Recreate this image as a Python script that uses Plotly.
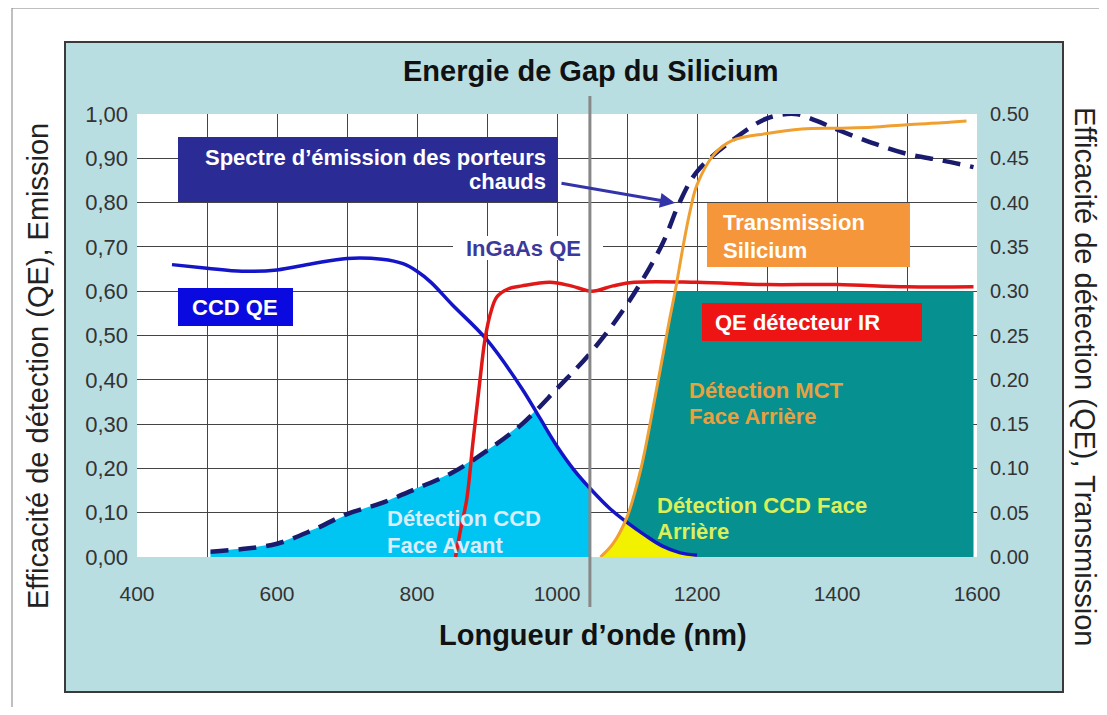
import numpy as np
import plotly.graph_objects as go

# ---------------- data ----------------
ccd_nm = [450, 500, 550, 600, 650, 700, 750, 780, 800, 820, 850, 900, 950, 975,
          1000, 1025, 1050, 1075, 1100, 1125, 1150, 1175, 1200]
ccd_qe = [0.66, 0.652, 0.645, 0.648, 0.662, 0.674, 0.672, 0.662, 0.645, 0.62,
          0.57, 0.49, 0.38, 0.315, 0.25, 0.195, 0.15, 0.11, 0.078, 0.05, 0.025,
          0.01, 0.004]

ir_nm = [855, 862, 871, 880, 890, 897, 905, 914, 930, 950, 990, 1020, 1050,
         1080, 1110, 1200, 1300, 1400, 1500, 1595]
ir_qe = [0.0, 0.06, 0.13, 0.26, 0.40, 0.49, 0.55, 0.587, 0.605, 0.612, 0.62,
         0.612, 0.60, 0.612, 0.62, 0.62, 0.615, 0.615, 0.61, 0.61]

em_nm = [505, 550, 600, 650, 700, 750, 800, 850, 900, 950, 1000, 1050, 1100,
         1150, 1175, 1200, 1250, 1300, 1340, 1370, 1400, 1450, 1500, 1550, 1595]
em_val = [0.012, 0.018, 0.03, 0.06, 0.097, 0.122, 0.155, 0.19, 0.24, 0.30, 0.38,
          0.465, 0.57, 0.705, 0.80, 0.87, 0.94, 0.99, 1.0, 0.985, 0.965, 0.935,
          0.91, 0.895, 0.88]

tr_nm = [1062, 1080, 1100, 1120, 1140, 1160, 1170, 1180, 1190, 1200, 1225, 1250,
         1300, 1350, 1400, 1450, 1500, 1550, 1585]
tr_val = [0.0, 0.015, 0.045, 0.10, 0.18, 0.265, 0.305, 0.35, 0.39, 0.42, 0.455,
          0.47, 0.478, 0.483, 0.484, 0.485, 0.488, 0.49, 0.492]

GAP_NM = 1047          # silicon gap marker
MCT_TOP = 0.60         # top of MCT back-side detection zone
MCT_END = 1595

x_ticks = list(range(400, 1601, 100))
x_text = [str(v) if v % 200 == 0 else "" for v in x_ticks]
y_ticks = [round(0.1 * i, 2) for i in range(11)]
y_text = [f"{v:.2f}".replace(".", ",") for v in y_ticks]
y2_ticks = [round(0.05 * i, 2) for i in range(11)]
y2_text = [f"{v:.2f}" for v in y2_ticks]

Y_MAX, Y2_MAX = 1.0, 0.5
SCALE = Y_MAX / Y2_MAX

# ---------------- layout geometry (page pixels) ----------------
BODY = 8                      # default page margin around the plot div
W, H = 1107 - BODY, 715 - 2 * BODY
PL, PR, PT, PB = 137, 977, 114, 557   # plot area in page pixels
FONT = "Liberation Sans, Arial, sans-serif"


def fx(p):
    return (p - PL) / (PR - PL)


def fy(p):
    return (PB - p) / (PB - PT)


# ---------------- fill regions ----------------
g1 = np.arange(em_nm[0], GAP_NM + 1, 1.0)
cyan_top = np.minimum(np.interp(g1, em_nm, em_val), np.interp(g1, ccd_nm, ccd_qe))

g2 = np.arange(tr_nm[0], MCT_END + 1, 1.0)
tr_left = np.interp(g2, tr_nm, tr_val) * SCALE
teal_top = np.minimum(tr_left, MCT_TOP)

g3 = np.arange(tr_nm[0], ccd_nm[-1] + 1, 1.0)
yel_top = np.minimum(np.interp(g3, tr_nm, tr_val) * SCALE, np.interp(g3, ccd_nm, ccd_qe))

fig = go.Figure()

fig.add_trace(go.Scatter(x=g1, y=cyan_top, mode="lines", line=dict(width=0, color="#00c4f2"),
                         fill="tozeroy", fillcolor="#00c4f2", hoverinfo="skip", showlegend=False))
fig.add_trace(go.Scatter(x=g2, y=teal_top, mode="lines", line=dict(width=0, color="#069090"),
                         fill="tozeroy", fillcolor="#069090", hoverinfo="skip", showlegend=False))
fig.add_trace(go.Scatter(x=g3, y=yel_top, mode="lines", line=dict(width=0, color="#f2f200"),
                         fill="tozeroy", fillcolor="#f2f200", hoverinfo="skip", showlegend=False))

fig.add_trace(go.Scatter(x=em_nm, y=em_val, mode="lines", name="Spectre d’émission",
                         line=dict(color="#1b1b6e", width=4.5, dash="18px,10px", shape="spline"),
                         showlegend=False))
fig.add_trace(go.Scatter(x=ccd_nm, y=ccd_qe, mode="lines", name="CCD QE",
                         line=dict(color="#1515c8", width=3.5, shape="spline"), showlegend=False))
fig.add_trace(go.Scatter(x=ir_nm, y=ir_qe, mode="lines", name="QE détecteur IR",
                         line=dict(color="#e01818", width=3.5, shape="spline"), showlegend=False))
fig.add_trace(go.Scatter(x=tr_nm, y=tr_val, mode="lines", name="Transmission Silicium", yaxis="y2",
                         line=dict(color="#f0a030", width=3, shape="spline"), showlegend=False))

shapes = [
    # outer frame
    dict(type="rect", xref="paper", yref="paper", x0=fx(12), x1=fx(1125), y0=fy(735), y1=fy(8),
         line=dict(color="#808080", width=1), fillcolor="white", layer="below"),
    # light blue panel
    dict(type="rect", xref="paper", yref="paper", x0=fx(65), x1=fx(1063), y0=fy(692), y1=fy(42),
         line=dict(color="#3a3a3a", width=2), fillcolor="#b9dee2", layer="below"),
    # white plot area
    dict(type="rect", xref="paper", yref="paper", x0=0, x1=1, y0=0, y1=1,
         line=dict(width=0), fillcolor="white", layer="below"),
    # label boxes
    dict(type="rect", xref="paper", yref="paper", x0=fx(178), x1=fx(558), y0=fy(202), y1=fy(137),
         line=dict(width=0), fillcolor="#2b2b96", layer="above"),
    dict(type="rect", xref="paper", yref="paper", x0=fx(178), x1=fx(293), y0=fy(326), y1=fy(288),
         line=dict(width=0), fillcolor="#0a0ae0", layer="above"),
    dict(type="rect", xref="paper", yref="paper", x0=fx(707), x1=fx(910), y0=fy(267), y1=fy(203),
         line=dict(width=0), fillcolor="#f5963a", layer="above"),
    dict(type="rect", xref="paper", yref="paper", x0=fx(702), x1=fx(922), y0=fy(341), y1=fy(303),
         line=dict(width=0), fillcolor="#ee1414", layer="above"),
    dict(type="rect", xref="paper", yref="paper", x0=fx(453), x1=fx(603), y0=fy(236), y1=fy(260),
         line=dict(width=0), fillcolor="white", layer="above"),
    # silicon gap marker
    dict(type="line", xref="x", yref="paper", x0=GAP_NM, x1=GAP_NM, y0=fy(607), y1=fy(96),
         line=dict(color="#888888", width=3), layer="above"),
]


def txt(s, x, y, size=22, color="white", anchor="left", bold=True, angle=0):
    return dict(text=s, xref="paper", yref="paper", x=fx(x), y=fy(y), xanchor=anchor,
                yanchor="middle", showarrow=False, textangle=angle,
                font=dict(family=FONT, size=size, color=color, weight="bold" if bold else "normal"))


annotations = [
    txt("Energie de Gap du Silicium", 590, 71, size=29, color="#111111", anchor="center"),
    txt("Longueur d’onde (nm)", 593, 635, size=29, color="#111111", anchor="center"),
    txt("Efficacité de détection (QE), Emission", 38, 366, size=29, color="#222222",
        anchor="center", bold=False, angle=-90),
    txt("Efficacité de détection (QE), Transmission", 1085, 376, size=29, color="#222222",
        anchor="center", bold=False, angle=90),
    txt("Spectre d’émission des porteurs", 548, 157, anchor="right"),
    txt("chauds", 548, 181, anchor="right"),
    txt("CCD QE", 235, 307, anchor="center"),
    txt("InGaAs QE", 523, 248, color="#3a3a9c", anchor="center"),
    txt("Transmission", 721, 222),
    txt("Silicium", 721, 250),
    txt("QE détecteur IR", 713, 322),
    txt("Détection MCT", 687, 390, color="#e8a040"),
    txt("Face Arrière", 687, 416, color="#e8a040"),
    txt("Détection CCD Face", 655, 505, color="#dcef5a"),
    txt("Arrière", 655, 531, color="#dcef5a"),
    txt("Détection CCD", 385, 518, color="#dcecf8"),
    txt("Face Avant", 385, 545, color="#dcecf8"),
    dict(xref="paper", yref="paper", x=fx(675), y=fy(203), ax=-115, ay=-20,
         showarrow=True, arrowhead=2, arrowsize=1, arrowwidth=3, arrowcolor="#3434aa", text=""),
]

fig.update_layout(
    width=W, height=H, autosize=False,
    margin=dict(l=PL - BODY, r=W - (PR - BODY), t=PT - BODY, b=H - (PB - BODY), pad=0),
    paper_bgcolor="white", plot_bgcolor="rgba(0,0,0,0)",
    font=dict(family=FONT, color="#222222"),
    showlegend=False,
    shapes=shapes, annotations=annotations,
    xaxis=dict(range=[400, 1600], tickvals=x_ticks, ticktext=x_text, showgrid=True,
               gridcolor="#444444", gridwidth=1, zeroline=False, showline=False, ticks="",
               tickfont=dict(size=21, color="#333333"), ticklabelstandoff=22, fixedrange=True),
    yaxis=dict(range=[0, Y_MAX], tickvals=y_ticks, ticktext=y_text, showgrid=True,
               gridcolor="#444444", gridwidth=1, zeroline=False, showline=False, ticks="",
               tickfont=dict(size=22, color="#333333"), ticklabelstandoff=8),
    yaxis2=dict(range=[0, Y2_MAX], overlaying="y", side="right", tickvals=y2_ticks,
                ticktext=y2_text, showgrid=False, zeroline=False, showline=False, ticks="",
                tickfont=dict(size=20, color="#333333"), ticklabelstandoff=12),
)

fig.write_html("out.html")
